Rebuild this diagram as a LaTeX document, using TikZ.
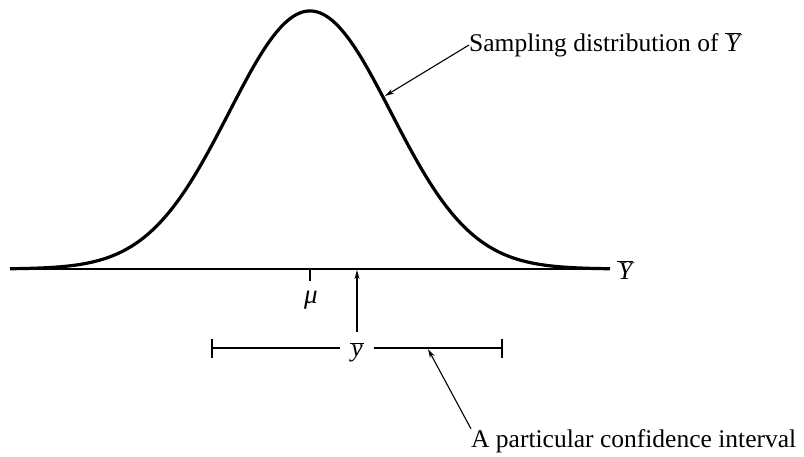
\documentclass[tikz,border=0pt]{standalone}
\usepackage{fontspec}
\setmainfont{Liberation Serif}
\usetikzlibrary{arrows.meta}
\newcommand{\obar}[1]{$\overline{\mbox{\kern1pt\itshape #1\kern1pt}}$}
\begin{document}
\begin{tikzpicture}[x=1pt,y=-1pt,
  lbl/.style={inner sep=0pt,font=\fontsize{25.5}{30}\selectfont},
  thin line/.style={line width=1.3pt},
  pointer/.style={line width=1.1pt,-{Stealth[length=9pt,width=5pt]}}]
\useasboundingbox (0,0) rectangle (804,456);
% axis
\coordinate (axL) at (10,269);
\coordinate (axR) at (610,269);
\draw[thin line] (axL) -- (axR);
% curve
\draw[line width=3.2pt,line cap=butt,line join=round]
  plot[domain=10:610,samples=241,smooth] ({\x},{269-258*exp(-0.5*((\x-310)/81)*((\x-310)/81))});
\node[lbl,anchor=west] (Ylab) at (617,270) {\obar{Y}};
% mu tick
\coordinate (mu0) at (310,269);
\coordinate (mu1) at (310,281);
\draw[thin line] (mu0) -- (mu1);
\node[lbl,font=\fontsize{27}{32}\selectfont] (mulab) at (311,300) {\itshape μ};
% ybar
\node[lbl] (ybar) at (357,352) {\obar{y}};
\coordinate (ytop) at (357,270);
\coordinate (ybot) at (357,332);
\draw[pointer] (ybot) -- (ytop);
% CI
\coordinate (ciL) at (212,348);
\coordinate (ciR) at (502,348);
\draw[thin line] (ciL) -- (340,348);
\draw[thin line] (374,348) -- (ciR);
\draw[thin line] (212,339) -- (212,358);
\draw[thin line] (502,339) -- (502,358);
% labels
\node[lbl,anchor=west] (samp) at (469,45) {Sampling distribution of \obar{Y}};
\coordinate (ctip) at (385,96);
\draw[pointer] (samp.west) -- (ctip);
\node[lbl,anchor=base west] (cilab) at (471,447) {A particular confidence interval};
\coordinate (citip) at (428,349);
\draw[pointer] (cilab.north west) -- (citip);
\end{tikzpicture}
\end{document}
